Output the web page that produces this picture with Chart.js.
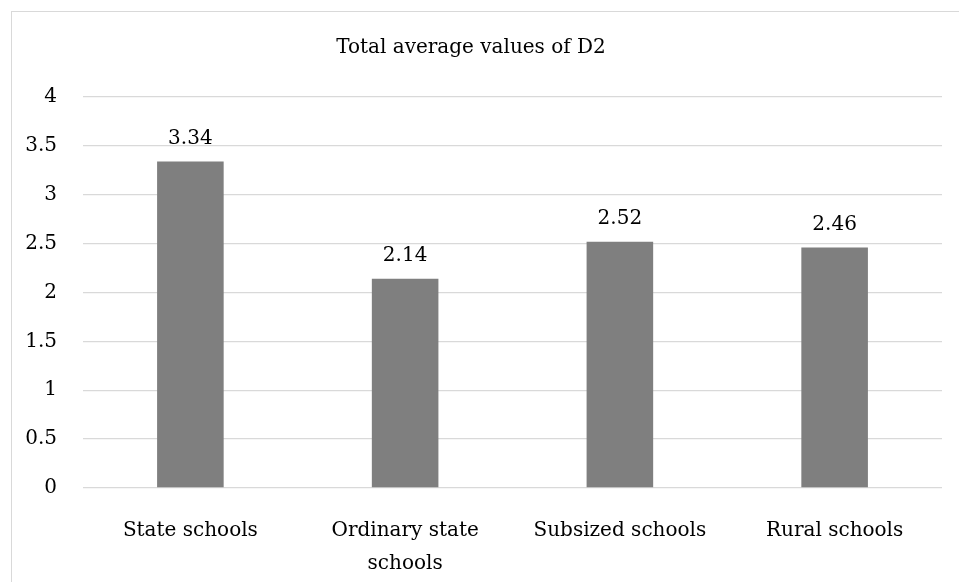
<!DOCTYPE html>
<html>
<head>
<meta charset="utf-8">
<title>Total average values of D2</title>
<script src="https://cdn.jsdelivr.net/npm/chart.js@4"></script>
<style>
  html, body { margin: 0; padding: 0; background: #fff; overflow: hidden; }
  #frame { position: absolute; left: 11px; top: 11px; width: 1000px; height: 1000px; border: 1px solid #d9d9d9; }
  #wrap { position: absolute; left: 0; top: 0; width: 984px; height: 582px; }
</style>
</head>
<body>
<div id="frame"></div>
<div id="wrap"><canvas id="d2-chart" width="984" height="582"></canvas></div>
<script>
// data
const schoolTypes = ["State schools", ["Ordinary state", "schools"], "Subsized schools", "Rural schools"];
const avgValues = [3.34, 2.14, 2.52, 2.46];
const yTicks = [0, 0.5, 1, 1.5, 2, 2.5, 3, 3.5, 4];

const serif = "'DejaVu Serif', 'Liberation Serif', serif";

// value labels above each bar
const valueLabels = {
  id: "valueLabels",
  afterDatasetsDraw(chart) {
    const ctx = chart.ctx;
    ctx.save();
    ctx.font = "20px " + serif;
    ctx.fillStyle = "#000";
    ctx.textAlign = "center";
    ctx.textBaseline = "alphabetic";
    chart.getDatasetMeta(0).data.forEach(function(bar, i) {
      ctx.fillText(avgValues[i].toFixed(2), bar.x, bar.y - 18);
    });
    ctx.restore();
  }
};

new Chart("d2-chart", {
  type: "bar",
  data: {
    labels: schoolTypes,
    datasets: [{
      data: avgValues,
      backgroundColor: "#7f7f7f",
      borderWidth: 0,
      barPercentage: 0.31,
      categoryPercentage: 1
    }]
  },
  options: {
    responsive: false,
    animation: false,
    devicePixelRatio: 1,
    layout: { padding: { left: 0, right: 42, top: 0, bottom: 0 } },
    plugins: {
      legend: { display: false },
      tooltip: { enabled: false },
      title: {
        display: true,
        text: "Total average values of D2",
        color: "#000",
        font: { family: serif, size: 20, weight: "normal", lineHeight: 1.2 },
        padding: { top: 36, bottom: 37 }
      }
    },
    scales: {
      x: {
        grid: { display: false },
        border: { display: false },
        ticks: {
          color: "#000",
          font: { family: serif, size: 20, lineHeight: 1.65 },
          padding: 18,
          maxRotation: 0,
          autoSkip: false
        },
        afterFit(scale) { scale.height = 94; }
      },
      y: {
        min: 0,
        max: 4,
        afterBuildTicks(scale) { scale.ticks = yTicks.map(v => ({ value: v })); },
        grid: { color: "#d9d9d9", lineWidth: 1.3, drawTicks: false },
        border: { display: false },
        ticks: {
          color: "#000",
          font: { family: serif, size: 20 },
          padding: 26,
          callback: v => String(v)
        },
        afterFit(scale) { scale.width = 83; }
      }
    }
  },
  plugins: [valueLabels]
});
</script>
</body>
</html>
